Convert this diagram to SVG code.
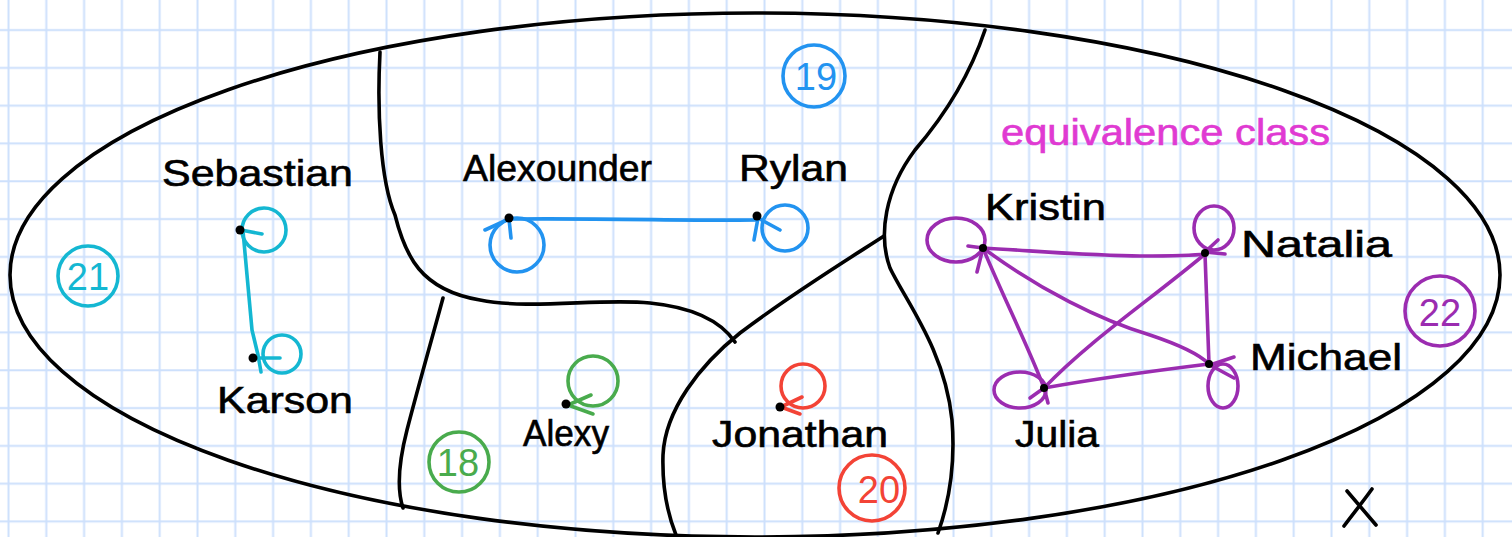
<svg xmlns="http://www.w3.org/2000/svg" width="1512" height="537" viewBox="0 0 1512 537">
<defs>
<pattern id="grid" width="37.8" height="37.8" patternUnits="userSpaceOnUse">
<path d="M8.5 0V37.8M0 30H37.8" stroke="#cde0fc" stroke-width="2" fill="none"/>
</pattern>
</defs>
<style>
.b{fill:none;stroke:#000;stroke-width:3.6;stroke-linecap:round;stroke-linejoin:round}
.lbl{font-family:"Liberation Sans",Arial,sans-serif;font-size:36px;fill:#000;stroke:#000;stroke-width:0.6}
.num{font-family:"Liberation Sans",Arial,sans-serif;font-size:38px;text-anchor:middle}
.dot{fill:#000}
.s{fill:none;stroke-width:3.6;stroke-linecap:round;stroke-linejoin:round}
.cy{stroke:#14b7d2}.cyt{fill:#14b7d2}
.bl{stroke:#2293f0}.blt{fill:#2293f0}
.gr{stroke:#49ab4d}.grt{fill:#49ab4d}
.rd{stroke:#f34336}.rdt{fill:#f34336}
.pu{stroke:#9b2cb0}.put{fill:#9b2cb0}
</style>
<rect width="1512" height="537" fill="#fff"/>
<rect width="1512" height="537" fill="url(#grid)"/>
<g id="regions">
<ellipse class="b" cx="755" cy="275" rx="745" ry="262"/>
<path class="b" d="M380,52 C377,110 380,180 395,215 C405,255 420,290 480,300 C530,310 600,298 650,303 C690,307 720,320 735,342"/>
<path class="b" d="M985,30 C970,75 945,115 915,150 C885,190 878,235 890,268 C905,300 945,350 952,420 C956,470 948,505 938,533"/>
<path class="b" d="M884,236 C850,258 790,295 740,333 C700,365 665,410 663,455 C662,490 668,515 676,535"/>
<path class="b" d="M443,298 C433,335 420,380 407,430 C398,465 397,490 403,508"/>
<path class="b" d="M1347,491 L1376,525 M1372,489 C1362,503 1352,515 1344,526"/>
</g>
<g id="class-labels">
<circle class="s cy" cx="88" cy="276" r="30"/><text class="num cyt" x="88" y="290" font-size="36">21</text>
<circle class="s bl" cx="814" cy="76" r="31"/><text class="num blt" x="816" y="90">19</text>
<circle class="s gr" cx="459" cy="462" r="30"/><text class="num grt" x="458" y="476">18</text>
<circle class="s rd" cx="872" cy="488" r="33"/><text class="num rdt" x="879" y="503">20</text>
<circle class="s pu" cx="1440" cy="311" r="35"/><text class="num put" x="1440" y="326" font-size="42">22</text>
<text x="1001" y="145" font-family="Liberation Sans,Arial,sans-serif" font-size="36" fill="#e03ad2" stroke="#e03ad2" stroke-width="0.6" textLength="329" lengthAdjust="spacingAndGlyphs">equivalence class</text>
</g>
<g id="connectors">
<path class="s cy" d="M243,231 L247,275 L252,330 L258,355 L261,372"/>
<path class="s bl" d="M512,219 C600,218 700,221 756,220"/>
<path class="s pu" d="M983,248 C1050,252 1100,256 1140,256 C1170,256 1190,256 1205,254"/>
<path class="s pu" d="M983,248 C1000,290 1030,350 1044,388"/>
<path class="s pu" d="M983,248 C1040,290 1100,320 1150,335 C1180,345 1200,355 1209,364"/>
<path class="s pu" d="M1205,254 C1150,300 1090,340 1044,388"/>
<path class="s pu" d="M1205,254 L1209,364"/>
<path class="s pu" d="M1044,388 C1100,378 1160,370 1209,364"/>
</g>
<g id="node-sebastian">
<circle class="s cy" cx="264" cy="230" r="22"/>
<path class="s cy" d="M262,234 L241,230"/>
<circle class="dot" cx="240" cy="230" r="4.5"/>
<text class="lbl" x="162" y="186" textLength="191" lengthAdjust="spacingAndGlyphs">Sebastian</text>
</g>
<g id="node-karson">
<circle class="s cy" cx="282" cy="354" r="19"/>
<path class="s cy" d="M255,358 L280,358"/>
<circle class="dot" cx="253" cy="358" r="4.5"/>
<text class="lbl" x="217" y="413" textLength="136" lengthAdjust="spacingAndGlyphs">Karson</text>
</g>
<g id="node-alexounder">
<circle class="s bl" cx="517" cy="245" r="27"/>
<path class="s bl" d="M509,219 L485,230 M509,219 L511,238"/>
<circle class="dot" cx="509" cy="218" r="4.5"/>
<text class="lbl" x="463" y="181" textLength="189" lengthAdjust="spacingAndGlyphs">Alexounder</text>
</g>
<g id="node-rylan">
<circle class="s bl" cx="785" cy="228" r="23"/>
<path class="s bl" d="M758,218 L780,230 M758,218 L754,240"/>
<circle class="dot" cx="757" cy="216" r="4.5"/>
<text class="lbl" x="739" y="181" textLength="109" lengthAdjust="spacingAndGlyphs">Rylan</text>
</g>
<g id="node-alexy">
<circle class="s gr" cx="593" cy="381" r="25"/>
<path class="s gr" d="M568,405 L591,395 M568,405 L593,414"/>
<circle class="dot" cx="566" cy="404" r="4.5"/>
<text class="lbl" x="523" y="446" textLength="86" lengthAdjust="spacingAndGlyphs">Alexy</text>
</g>
<g id="node-jonathan">
<circle class="s rd" cx="803" cy="386" r="22"/>
<path class="s rd" d="M781,407 L802,397 M781,407 L800,414"/>
<circle class="dot" cx="780" cy="407" r="4.5"/>
<text class="lbl" x="712" y="447" textLength="176" lengthAdjust="spacingAndGlyphs">Jonathan</text>
</g>
<g id="node-kristin">
<ellipse class="s pu" cx="956" cy="240" rx="29" ry="22"/>
<path class="s pu" d="M983,248 L968,246 M983,248 L977,272"/>
<circle class="dot" cx="983" cy="248" r="4"/>
<text class="lbl" x="985" y="220" textLength="121" lengthAdjust="spacingAndGlyphs">Kristin</text>
</g>
<g id="node-natalia">
<ellipse class="s pu" cx="1214" cy="228" rx="20" ry="22"/>
<path class="s pu" d="M1205,252 L1218,240 M1205,252 L1225,254"/>
<circle class="dot" cx="1205" cy="253" r="4"/>
<text class="lbl" x="1241" y="257" textLength="151" lengthAdjust="spacingAndGlyphs">Natalia</text>
</g>
<g id="node-michael">
<ellipse class="s pu" cx="1223" cy="386" rx="15" ry="22"/>
<path class="s pu" d="M1210,365 L1234,357 M1210,365 L1234,378"/>
<circle class="dot" cx="1209" cy="364" r="4"/>
<text class="lbl" x="1250" y="370" textLength="152" lengthAdjust="spacingAndGlyphs">Michael</text>
</g>
<g id="node-julia">
<ellipse class="s pu" cx="1020" cy="390" rx="26" ry="18"/>
<path class="s pu" d="M1044,388 L1030,398 M1044,388 L1048,403"/>
<circle class="dot" cx="1044" cy="388" r="4"/>
<text class="lbl" x="1015" y="447" textLength="84" lengthAdjust="spacingAndGlyphs">Julia</text>
</g>
</svg>
